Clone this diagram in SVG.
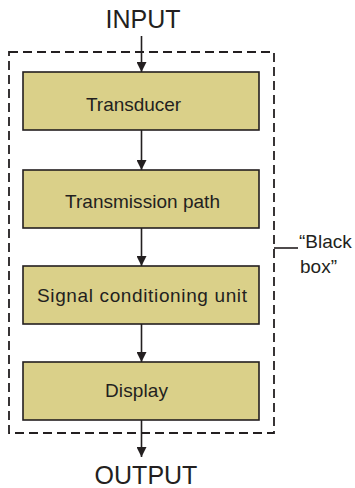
<svg xmlns="http://www.w3.org/2000/svg" width="355" height="488" viewBox="0 0 355 488">
<style>
.box{fill:#dad089;stroke:#231f20;stroke-width:1.6}
.lbl{font-family:"Liberation Sans",Arial,sans-serif;font-size:19px;fill:#231f20;text-anchor:middle}
.big{font-family:"Liberation Sans",Arial,sans-serif;font-size:25px;fill:#231f20;text-anchor:middle}
.ln{stroke:#231f20;stroke-width:1.6;fill:none}
</style>
<defs>
<marker id="ah" markerWidth="10" markerHeight="10" refX="10" refY="5" orient="auto" markerUnits="userSpaceOnUse">
<path d="M0,0 L10,5 L0,10 Z" fill="#231f20"/>
</marker>
</defs>
<rect x="9" y="52" width="265" height="381" fill="none" stroke="#231f20" stroke-width="1.8" stroke-dasharray="9,5"/>
<g id="connectors">
<line class="ln" x1="141.5" y1="36" x2="141.5" y2="72" marker-end="url(#ah)"/>
<line class="ln" x1="141.5" y1="130" x2="141.5" y2="170" marker-end="url(#ah)"/>
<line class="ln" x1="141.5" y1="228" x2="141.5" y2="266" marker-end="url(#ah)"/>
<line class="ln" x1="141.5" y1="324" x2="141.5" y2="362" marker-end="url(#ah)"/>
<line class="ln" x1="141.5" y1="420" x2="141.5" y2="457" marker-end="url(#ah)"/>
<line class="ln" x1="274" y1="248" x2="298" y2="248"/>
</g>
<g id="input"><text class="big" x="143" y="28">INPUT</text></g>
<g id="transducer"><rect class="box" x="23" y="72" width="236" height="58"/><text class="lbl" x="133.5" y="111" textLength="95">Transducer</text></g>
<g id="transmission"><rect class="box" x="23" y="170" width="236" height="58"/><text class="lbl" x="142.5" y="208" textLength="155">Transmission path</text></g>
<g id="signal"><rect class="box" x="23" y="266" width="236" height="58"/><text class="lbl" x="142" y="302" textLength="210">Signal conditioning unit</text></g>
<g id="display"><rect class="box" x="23" y="362" width="236" height="58"/><text class="lbl" x="136.5" y="397" textLength="63">Display</text></g>
<g id="output"><text class="big" x="146" y="484">OUTPUT</text></g>
<g id="blackbox"><text class="lbl" style="text-anchor:start" x="299" y="248">“Black</text><text class="lbl" style="text-anchor:start" x="300" y="273">box”</text></g>
</svg>
